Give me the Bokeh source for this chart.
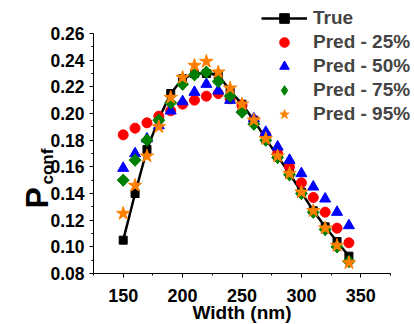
import numpy as np
from bokeh.plotting import figure
from bokeh.models import Range1d, FixedTicker, PrintfTickFormatter, Legend, LegendItem, Label
from bokeh.embed import file_html
from bokeh.resources import INLINE

# ---- data ----
width_nm = [150, 160, 170, 180, 190, 200, 210, 220, 230, 240,
            250, 260, 270, 280, 290, 300, 310, 320, 330, 340]
p_true = [0.105, 0.140, 0.173, 0.196, 0.215, 0.226, 0.230, 0.230, 0.229, 0.217,
          0.207, 0.195, 0.181, 0.168, 0.155, 0.141, 0.127, 0.115, 0.104, 0.093]
pred_25 = [0.184, 0.189, 0.193, 0.198, 0.202, 0.207, 0.210, 0.213, 0.215, 0.211,
           0.206, 0.195, 0.184, 0.170, 0.160, 0.148, 0.137, 0.126, 0.114, 0.103]
pred_50 = [0.159, 0.170, 0.181, 0.191, 0.202, 0.209, 0.216, 0.222, 0.217, 0.210,
           0.203, 0.196, 0.186, 0.175, 0.165, 0.155, 0.145, 0.136, 0.126, 0.116]
pred_75 = [0.150, 0.165, 0.180, 0.195, 0.208, 0.222, 0.229, 0.231, 0.224, 0.213,
           0.201, 0.192, 0.180, 0.167, 0.154, 0.140, 0.126, 0.113, 0.100, 0.089]
pred_95 = [0.125, 0.146, 0.168, 0.190, 0.212, 0.227, 0.236, 0.239, 0.231, 0.219,
           0.207, 0.195, 0.181, 0.168, 0.155, 0.141, 0.127, 0.114, 0.101, 0.088]

x_ticks = [150, 200, 250, 300, 350]
x_minor = [125, 175, 225, 275, 325, 375]
y_ticks = [0.08, 0.10, 0.12, 0.14, 0.16, 0.18, 0.20, 0.22, 0.24, 0.26]
y_minor = [0.09, 0.11, 0.13, 0.15, 0.17, 0.19, 0.21, 0.23, 0.25]
x_axis_bounds = (125, 375)
y_axis_bounds = (0.08, 0.26)

legend_labels = ["True", "Pred - 25%", "Pred - 50%", "Pred - 75%", "Pred - 95%"]

FONT = "Liberation Sans"
GREEN = "#008000"
W, H = 414, 324
# frame fills the whole canvas; axes are pinned at the bounds' corner
p = figure(width=W, height=H, output_backend="svg", toolbar_location=None,
           title=None,
           x_range=Range1d(46.72, 395.20), y_range=Range1d(0.04175, 0.28475),
           min_border=0)
p.outline_line_color = None
p.xgrid.grid_line_color = None
p.ygrid.grid_line_color = None

p.xaxis.fixed_location = y_axis_bounds[0]
p.yaxis.fixed_location = x_axis_bounds[0]
p.xaxis.bounds = x_axis_bounds
p.yaxis.bounds = y_axis_bounds

for ax in (p.xaxis[0], p.yaxis[0]):
    ax.axis_line_color = "black"
    ax.axis_line_width = 1
    ax.major_tick_line_color = "black"
    ax.minor_tick_line_color = "black"
    ax.major_tick_in = 0
    ax.major_tick_out = 4
    ax.minor_tick_in = 0
    ax.minor_tick_out = 2
    ax.major_label_text_font = FONT
    ax.major_label_text_font_style = "bold"
    ax.major_label_text_color = "black"

p.xaxis.ticker = FixedTicker(ticks=x_ticks, minor_ticks=x_minor)
p.yaxis.ticker = FixedTicker(ticks=y_ticks, minor_ticks=y_minor)
p.yaxis.formatter = PrintfTickFormatter(format="%.2f")
p.xaxis.major_label_text_font_size = "18px"
p.yaxis.major_label_text_font_size = "17.5px"
p.xaxis.major_label_standoff = 11
p.yaxis.major_label_standoff = 5

r_line = p.line(width_nm, p_true, line_color="black", line_width=2.5)
r_sq = p.scatter(width_nm, p_true, marker="square", size=8, color="black")
r25 = p.scatter(width_nm, pred_25, marker="circle", size=10, color="#FF0000")
r50 = p.scatter(width_nm, pred_50, marker="triangle", size=11, color="#0000FF")
# narrow diamond sits fully inside the rotated square; it supplies the legend key
r75_key = p.scatter(width_nm, pred_75, marker="diamond", size=12, color=GREEN)
r75 = p.scatter(width_nm, pred_75, marker="square", size=8.5, angle=np.pi / 4,
                color=GREEN)
r95 = p.scatter(width_nm, pred_95, marker="star", size=14, color="#FF8000")

legend = Legend(items=[
    LegendItem(label=legend_labels[0], renderers=[r_line, r_sq]),
    LegendItem(label=legend_labels[1], renderers=[r25]),
    LegendItem(label=legend_labels[2], renderers=[r50]),
    LegendItem(label=legend_labels[3], renderers=[r75_key]),
    LegendItem(label=legend_labels[4], renderers=[r95]),
], location=(261, 198))
legend.border_line_color = None
legend.background_fill_alpha = 0
legend.padding = 0
legend.margin = 0
legend.spacing = 0
legend.glyph_width = 46
legend.glyph_height = 24
legend.label_height = 24
legend.label_standoff = 6
legend.label_text_font = FONT
legend.label_text_font_style = "bold"
legend.label_text_font_size = "19px"
p.add_layout(legend)

# y-axis title P_conf
p.add_layout(Label(x=36, y=116, x_units="screen", y_units="screen", text="P",
                   angle=np.pi / 2, text_font=FONT, text_font_style="bold",
                   text_font_size="32px", text_align="left",
                   text_baseline="alphabetic", text_color="black"))
p.add_layout(Label(x=47, y=140, x_units="screen", y_units="screen", text="conf",
                   angle=np.pi / 2, text_font=FONT, text_font_style="bold",
                   text_font_size="17px", text_align="left",
                   text_baseline="alphabetic", text_color="black"))
# x-axis title
p.add_layout(Label(x=241.5, y=12, x_units="screen", y_units="screen",
                   text="Width (nm)", text_font=FONT, text_font_style="bold",
                   text_font_size="19px", text_align="center",
                   text_baseline="middle", text_color="black"))

open("out.html", "w").write(file_html(p, INLINE))
